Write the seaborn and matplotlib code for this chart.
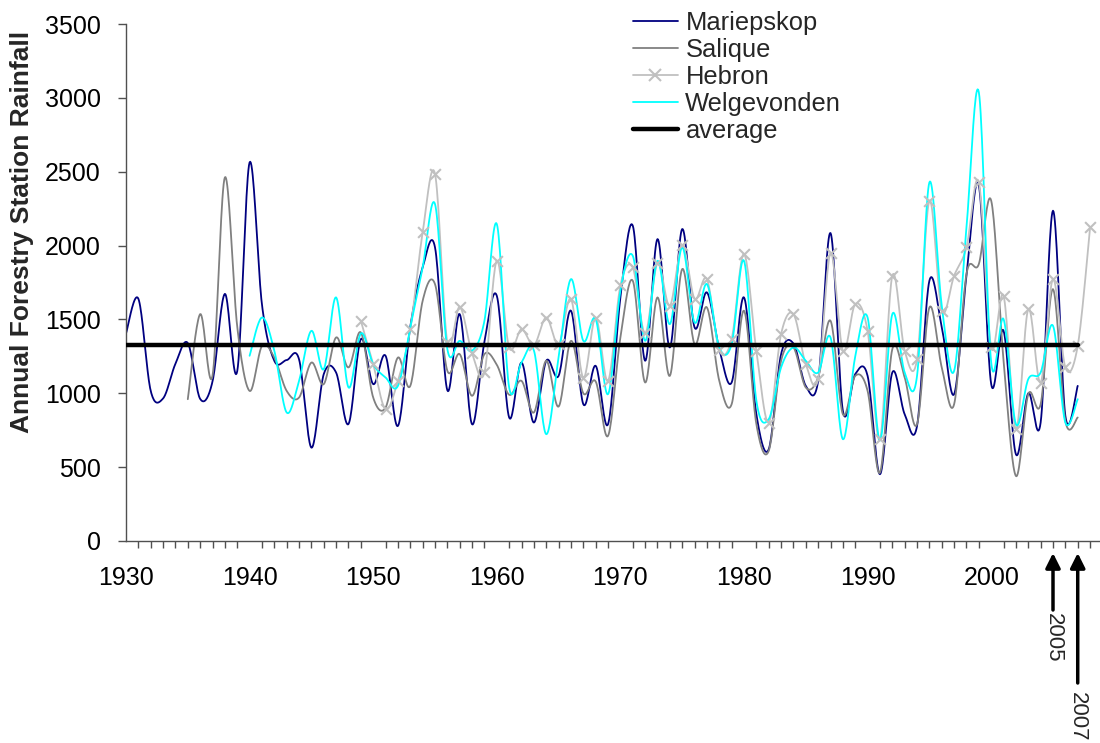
import numpy as np
import pandas as pd
import matplotlib
matplotlib.use("Agg")
import matplotlib.pyplot as plt
import seaborn as sns
from matplotlib.lines import Line2D
from matplotlib.transforms import blended_transform_factory

sns.set_theme(style="white")
plt.rcParams['font.family'] = ['Liberation Sans', 'DejaVu Sans']

# ---- annual rainfall per forestry station (mm) ----
mariepskop_years = list(range(1930, 2008))
mariepskop = [1405, 1640, 1016, 965, 1200, 1340, 962, 1080, 1673, 1150,
              2563, 1600, 1220, 1225, 1230, 632, 1130, 1140, 792, 1366,
              1062, 1254, 779, 1450, 1852, 1988, 1020, 1536, 790, 1350,
              1660, 836, 1208, 802, 1220, 1118, 1559, 926, 1186, 791,
              1649, 2135, 1220, 2044, 1310, 2112, 1446, 1683, 1300, 1073,
              1649, 858, 621, 1265, 1337, 1050, 1084, 2085, 881, 1130,
              1118, 452, 1141, 858, 779, 1762, 1450, 994, 1800, 2406,
              1062, 1423, 587, 1000, 802, 2236, 847, 1050]

salique_years = list(range(1935, 2008))
salique = [960, 1536, 1120, 2462, 1450,
           1016, 1320, 1242, 1016, 971, 1208, 1062, 1378, 1175, 1412,
           971, 903, 1242, 1050, 1626, 1739, 1152, 1265, 983, 1265,
           1193, 990, 1084, 870, 1220, 910, 1355, 1000, 1080, 712,
           1378, 1762, 1073, 1649, 1118, 1841, 1333, 1581, 1084, 926,
           1559, 791, 610, 1220, 1310, 1039, 1107, 1491, 858, 1118,
           1016, 463, 1299, 1107, 791, 1581, 1175, 926, 1807, 1875,
           2304, 1220, 440, 994, 926, 1705, 813, 836]

hebron_years = list(range(1949, 2009))
hebron = [1491,
          1197, 892, 1084, 1434, 2089, 2485, 1344, 1585, 1270, 1141,
          1897, 1310, 1434, 1325, 1513, 1333, 1638, 1105, 1513, 1084,
          1730, 1852, 1405, 1880, 1592, 2005, 1640, 1773, 1292, 1367,
          1943, 1288, 802, 1401, 1536, 1197, 1096, 1950, 1288, 1604,
          1423, 689, 1796, 1288, 1231, 2304, 1559, 1796, 1988, 2428,
          1310, 1660, 757, 1570, 1073, 1773, 1175, 1321, 2123]

welgevonden_years = list(range(1940, 2008))
welgevonden = [1254, 1513, 1288, 870, 1084, 1423, 1163, 1649, 1040, 1405,
               1197, 1107, 1050, 1446, 1852, 2281, 1299, 1355, 1288, 1491,
               2146, 1039, 1208, 1290, 723, 1242, 1773, 1355, 1502, 994,
               1694, 1931, 1355, 1897, 1468, 1988, 1479, 1739, 1310, 1333,
               1897, 949, 825, 1175, 1310, 1220, 1141, 1378, 689, 1250,
               1513, 680, 1536, 1141, 1118, 2428, 1592, 1152, 2123, 3038,
               1208, 1502, 791, 1096, 1141, 1457, 802, 960]

average_years = list(range(1930, 2008))
average_value = 1325

marked_years = [2005, 2007]

stations = ["Mariepskop", "Salique", "Hebron", "Welgevonden"]
colors = {"Mariepskop": "#000080", "Salique": "#808080",
          "Hebron": "#C0C0C0", "Welgevonden": "#00FFFF"}


def smooth_curve(x, y, n=20):
    """Bezier smoothing through every point (Catmull-Rom style)."""
    p = np.column_stack([x, y]).astype(float)
    pad = np.vstack([p[0], p, p[-1]])
    t = np.linspace(0, 1, n, endpoint=False)[:, None]
    out = []
    for i in range(len(p) - 1):
        p0, p1, p2, p3 = pad[i], pad[i + 1], pad[i + 2], pad[i + 3]
        c1 = p1 + (p2 - p0) / 6.0
        c2 = p2 - (p3 - p1) / 6.0
        seg = ((1 - t) ** 3) * p1 + 3 * ((1 - t) ** 2) * t * c1 \
            + 3 * (1 - t) * t ** 2 * c2 + t ** 3 * p2
        out.append(seg)
    out.append(p[-1][None, :])
    out = np.vstack(out)
    return out[:, 0], out[:, 1]


series = {
    "Mariepskop": (mariepskop_years, mariepskop),
    "Salique": (salique_years, salique),
    "Hebron": (hebron_years, hebron),
    "Welgevonden": (welgevonden_years, welgevonden),
}

W, H = 1100, 743
fig = plt.figure(figsize=(W / 100, H / 100), dpi=100)
left, right, top, bottom = 126, 1100, 24, 541
ax = fig.add_axes([left / W, 1 - bottom / H, (right - left) / W, (bottom - top) / H])

for name in stations:
    yrs, vals = series[name]
    sx, sy = smooth_curve(yrs, vals)
    df = pd.DataFrame({"year": sx, "rain": sy})
    sns.lineplot(data=df, x="year", y="rain", ax=ax, color=colors[name],
                 lw=1.3, sort=False, estimator=None, legend=False)
    if name == "Hebron":
        dm = pd.DataFrame({"year": yrs, "rain": vals})
        sns.scatterplot(data=dm, x="year", y="rain", ax=ax, marker="x",
                        color=colors[name], s=60, linewidth=1.5, legend=False,
                        zorder=3)

avg_df = pd.DataFrame({"year": average_years,
                       "rain": [average_value] * len(average_years)})
sns.lineplot(data=avg_df, x="year", y="rain", ax=ax, color="black", lw=3.2,
             estimator=None, legend=False, zorder=4)

ax.set_xlim(1930, 1930 + (right - left) / 12.36)
ax.set_ylim(0, 3500)
ax.set_xticks(range(1930, 2001, 10))
ax.set_xticks(range(1930, 2009), minor=True)
ax.set_yticks(range(0, 3501, 500))
ax.set_xlabel("")
ax.set_ylabel("")

for s in ["top", "right"]:
    ax.spines[s].set_visible(False)
for s in ["left", "bottom"]:
    ax.spines[s].set_color("#505050")
    ax.spines[s].set_linewidth(1.0)

ax.tick_params(axis="x", which="major", direction="out", length=8, width=1,
               color="#505050", labelsize=18, pad=10, labelcolor="black")
ax.tick_params(axis="x", which="minor", direction="out", length=5, width=1,
               color="#505050", bottom=True)
ax.tick_params(axis="y", which="major", direction="out", length=6, width=1,
               color="#505050", labelsize=18, pad=12, labelcolor="black", left=True)

fig.text(22 / W, 1 - 232 / H, "Annual Forestry Station Rainfall",
         rotation=90, ha="center", va="center", fontsize=19, fontweight="bold")

handles = []
for name in stations:
    if name == "Hebron":
        handles.append(Line2D([], [], color=colors[name], lw=1.3, marker="x",
                              markersize=8, mew=1.5))
    else:
        handles.append(Line2D([], [], color=colors[name], lw=1.3))
handles.append(Line2D([], [], color="black", lw=3.2))
leg = fig.legend(handles, stations + ["average"], loc="upper left",
                 bbox_to_anchor=(633 / W, 1 - 11 / H), frameon=False,
                 fontsize=18.4, handlelength=1.75, handletextpad=0.3,
                 labelspacing=0.12, borderpad=0, borderaxespad=0)

trans = blended_transform_factory(ax.transData, ax.transAxes)
ph = bottom - top
for yr, tail_px, text_px in zip(marked_years, [610, 683], [613, 692]):
    ax.annotate("", xy=(yr, -(553 - bottom) / ph), xytext=(yr, -(tail_px - bottom) / ph),
                xycoords=trans, textcoords=trans, annotation_clip=False,
                arrowprops=dict(arrowstyle="-|>", color="black", lw=2.5,
                                mutation_scale=22, shrinkA=0, shrinkB=0))
    ax.text(yr, -(text_px - bottom) / ph, str(yr), transform=trans,
            rotation=-90, ha="center", va="top", fontsize=16, clip_on=False)

fig.savefig("out.png", dpi=100)
